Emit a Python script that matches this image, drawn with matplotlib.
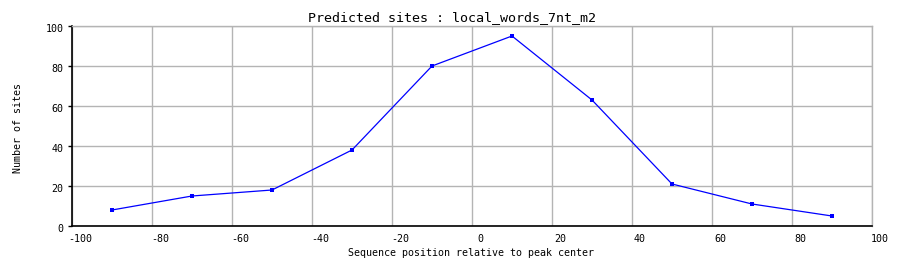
"""Predicted sites profile around peak centers."""

import matplotlib
matplotlib.use("Agg")
import matplotlib.pyplot as plt
from matplotlib.transforms import ScaledTranslation

# data
positions = [-90, -70, -50, -30, -10, 10, 30, 50, 70, 90]
n_sites = [8, 15, 18, 38, 80, 95, 63, 21, 11, 5]
x_ticks = [-100, -80, -60, -40, -20, 0, 20, 40, 60, 80, 100]
y_ticks = [0, 20, 40, 60, 80, 100]

W, H, DPI = 904, 278, 100
MONO = "DejaVu Sans Mono"

fig = plt.figure(figsize=(W / DPI, H / DPI), dpi=DPI)
ax = fig.add_axes([72 / W, 52 / H, 800 / W, 200 / H])

ax.plot(positions, n_sites, color="#0000ff", linewidth=0.9,
        marker="s", markersize=2.6, markeredgewidth=0, zorder=3)

ax.set_xlim(-100, 100)
ax.set_ylim(0, 100)
ax.set_xticks(x_ticks)
ax.set_yticks(y_ticks)
ax.set_xticklabels([str(v) for v in x_ticks], fontsize=7.2, family=MONO)
ax.set_yticklabels([str(v) for v in y_ticks], fontsize=7.2, family=MONO)
ax.grid(True, color="#b4b4b4", linewidth=1.0)
ax.set_axisbelow(True)

ax.tick_params(axis="x", length=0, pad=6)
ax.tick_params(axis="y", length=3, width=1, pad=3)

# the original tool draws its labels a bit off the grid lines
for lab in ax.get_xticklabels():
    lab.set_transform(lab.get_transform() + ScaledTranslation(8 / DPI, 0, fig.dpi_scale_trans))
for lab in ax.get_yticklabels():
    lab.set_transform(lab.get_transform() + ScaledTranslation(0, -2 / DPI, fig.dpi_scale_trans))

for side in ("left", "bottom"):
    ax.spines[side].set_color("black")
    ax.spines[side].set_linewidth(1.2)
for side in ("top", "right"):
    ax.spines[side].set_color("#b4b4b4")
    ax.spines[side].set_linewidth(1.0)

fig.text(452 / W, 1 - 18 / H, "Predicted sites : local_words_7nt_m2",
         ha="center", va="center", fontsize=9.6, family=MONO)
fig.text(471 / W, 1 - 253 / H, "Sequence position relative to peak center",
         ha="center", va="center", fontsize=7.2, family=MONO)
fig.text(18 / W, 1 - 128 / H, "Number of sites", rotation=90,
         ha="center", va="center", fontsize=7.2, family=MONO)

fig.savefig("out.png", dpi=DPI)
plt.close(fig)
